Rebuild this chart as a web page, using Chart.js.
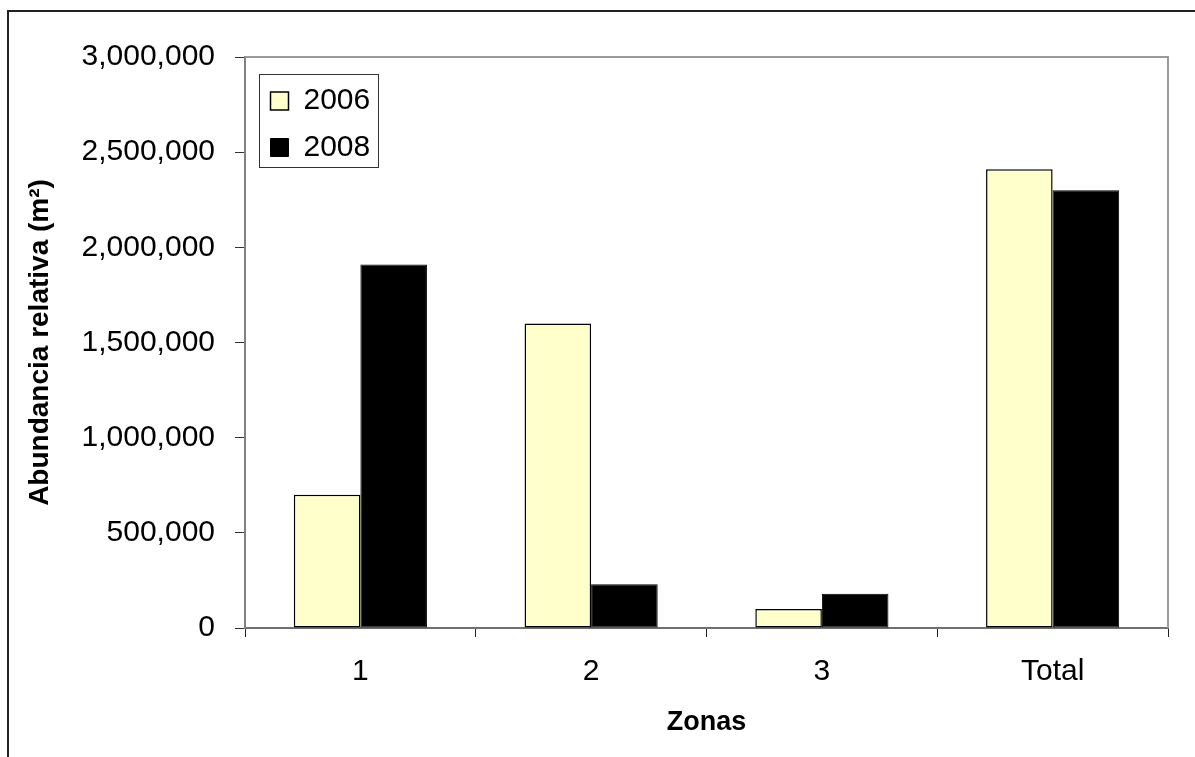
<!DOCTYPE html>
<html>
<head>
<meta charset="utf-8">
<script src="https://cdn.jsdelivr.net/npm/chart.js@4.4.0/dist/chart.umd.min.js"></script>
<style>
  html, body { margin: 0; padding: 0; background: #fff; }
  canvas { display: block; }
</style>
</head>
<body>
<canvas id="zonasChart" width="1195" height="757"></canvas>
<script>
// Datos
const zonas = ["1", "2", "3", "Total"];
const abund2006 = [700000, 1600000, 100000, 2410000];
const abund2008 = [1910000, 230000, 180000, 2300000];
const yMax = 3000000;
const yStep = 500000;

const FONT = "'Liberation Sans', Arial, sans-serif";
Chart.defaults.font.family = FONT;
Chart.defaults.color = "#000";

// outer frame, plot area border, legend box
const framePlugin = {
  id: "frame",
  afterLayout(chart) {
    // chartArea legend sits at top=0, push it into place inside the plot
    const lg = chart.legend;
    if (!lg) return;
    const dx = 9, dy = 69.5;
    lg.left += dx; lg.right += dx;
    lg.top += dy; lg.bottom += dy;
  },
  beforeDraw(chart) {
    const ctx = chart.ctx;
    ctx.save();
    ctx.strokeStyle = "#222";
    ctx.lineWidth = 2;
    ctx.strokeRect(8, 11, 1300, 900);
    ctx.restore();
  },
  afterDatasetsDraw(chart) {
    const { ctx, chartArea: a } = chart;
    ctx.save();
    ctx.strokeStyle = "#9a9a9a";
    ctx.lineWidth = 2;
    ctx.beginPath();
    ctx.moveTo(a.left, a.top);
    ctx.lineTo(a.right, a.top);
    ctx.lineTo(a.right, a.bottom);
    ctx.stroke();
    ctx.restore();
  },
  afterDraw(chart) {
    const boxes = chart.legend && chart.legend.legendHitBoxes;
    if (!boxes || !boxes.length) return;
    const ctx = chart.ctx;
    const l = Math.min(...boxes.map(b => b.left)) - 12;
    const r = Math.max(...boxes.map(b => b.left + b.width)) + 7;
    const t = Math.min(...boxes.map(b => b.top)) - 12;
    const btm = Math.max(...boxes.map(b => b.top + b.height)) + 4.5;
    ctx.save();
    ctx.strokeStyle = "#333";
    ctx.lineWidth = 1;
    ctx.strokeRect(Math.round(l) + 0.5, Math.round(t) + 0.5, Math.round(r - l), Math.round(btm - t));
    ctx.restore();
  }
};

const ctx = document.getElementById("zonasChart").getContext("2d");
new Chart(ctx, {
  type: "bar",
  data: {
    labels: zonas,
    datasets: [
      {
        label: "2006",
        data: abund2006,
        backgroundColor: "#ffffcc",
        borderColor: "#000",
        borderWidth: 1.5,
        borderSkipped: false
      },
      {
        label: "2008",
        data: abund2008,
        backgroundColor: "#000",
        borderColor: "#000",
        borderWidth: 1,
        borderSkipped: false
      }
    ]
  },
  options: {
    responsive: false,
    animation: false,
    events: [],
    layout: { padding: { left: 0, top: 57, right: 27, bottom: 0 } },
    datasets: {
      bar: { categoryPercentage: 0.577, barPercentage: 1 }
    },
    plugins: {
      tooltip: { enabled: false },
      legend: {
        position: "chartArea",
        align: "start",
        labels: {
          font: { size: 30 },
          color: "#000",
          boxWidth: 18,
          boxHeight: 18,
          padding: 16.5
        }
      }
    },
    scales: {
      x: {
        afterFit: (s) => { s.height = 129; },
        grid: { drawOnChartArea: false, drawTicks: true, tickLength: 9, color: "#222", offset: true },
        border: { color: "#707070", width: 2 },
        ticks: { font: { size: 30 }, color: "#000", padding: 17, maxRotation: 0 },
        title: {
          display: true,
          text: "Zonas",
          font: { size: 27, weight: "bold" },
          color: "#000",
          padding: { top: 0, bottom: 18 }
        }
      },
      y: {
        min: 0,
        max: yMax,
        afterFit: (s) => { s.width = 245; },
        grid: { drawOnChartArea: false, drawTicks: true, tickLength: 10, color: "#333" },
        border: { color: "#808080", width: 2 },
        ticks: {
          stepSize: yStep,
          font: { size: 30 },
          color: "#000",
          padding: 20,
          callback: v => v.toLocaleString("en-US")
        },
        title: {
          display: true,
          text: "Abundancia relativa (m²)",
          font: { size: 28, weight: "bold" },
          color: "#000",
          padding: { top: 23, bottom: 0 }
        }
      }
    }
  },
  plugins: [framePlugin]
});
</script>
</body>
</html>
